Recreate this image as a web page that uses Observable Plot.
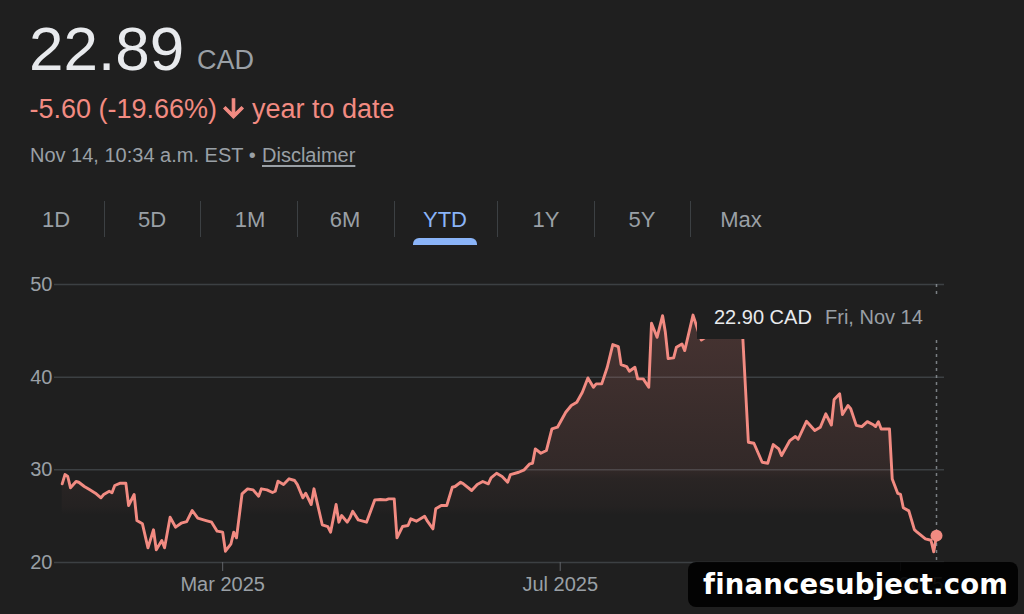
<!DOCTYPE html>
<html><head><meta charset="utf-8">
<script src="https://cdn.jsdelivr.net/npm/d3@7"></script>
<script src="https://cdn.jsdelivr.net/npm/@observablehq/plot@0.6"></script>
<style>
html,body{margin:0;padding:0;background:#1f1f1f;}
body{width:1024px;height:614px;position:relative;overflow:hidden;font-family:"Liberation Sans",Arial,sans-serif;}
.abs{position:absolute;white-space:nowrap;line-height:1;}
.tab{position:absolute;width:100px;text-align:center;font-size:22px;line-height:1;top:209px;color:#9aa0a6;}
.sep{position:absolute;top:201px;width:1px;height:36px;background:#3c4043;}
</style></head><body>

<div class="abs" style="left:29px;top:17.5px;font-size:62px;color:#e8eaed">22.89</div>
<div class="abs" style="left:197px;top:47px;font-size:27px;color:#9aa0a6">CAD</div>

<div class="abs" style="left:29.5px;top:96px;font-size:27px;color:#f28b82">-5.60 (-19.66%)</div>
<svg style="position:absolute;left:219px;top:94px" width="29" height="29" viewBox="0 0 24 24"><path fill="#f28b82" d="M20 12l-1.41-1.41L13 16.17V4h-2v12.17l-5.58-5.59L4 12l8 8 8-8z" stroke="#f28b82" stroke-width="1"/></svg>
<div class="abs" style="left:252px;top:96px;font-size:27px;color:#f28b82">year to date</div>

<div class="abs" style="left:30px;top:145px;font-size:20px;color:#9aa0a6">Nov 14, 10:34 a.m. EST •</div>
<div class="abs" style="left:262px;top:145px;font-size:20px;color:#9aa0a6;text-decoration:underline;text-underline-offset:3px">Disclaimer</div>

<div id="tabs"></div>
<div style="position:absolute;left:413px;top:238px;width:64px;height:7px;background:#8ab4f8;border-radius:6px 6px 0 0"></div>

<div id="chart" style="position:absolute;left:0;top:270px"></div>

<div style="position:absolute;left:697px;top:295px;width:250px;height:44px;background:#1f1f1f"></div>
<div class="abs" style="left:714px;top:306.5px;font-size:20px;color:#e8eaed">22.90 CAD</div>
<div class="abs" style="left:825px;top:306.5px;font-size:20px;color:#9aa0a6">Fri, Nov 14</div>

<div style="position:absolute;left:688px;top:562px;width:330px;height:45px;background:rgba(0,0,0,0.9);border-radius:8px"></div>
<div class="abs" style="left:703px;top:571px;font-size:27.5px;font-weight:bold;color:#fff;font-family:'DejaVu Sans',sans-serif;letter-spacing:0.2px;text-shadow:1px 1px 1px #000">financesubject.com</div>

<script>
// ---- data ----
const tabLabels = ["1D","5D","1M","6M","YTD","1Y","5Y","Max"];
const activeTab = "YTD";

const yTicks = [20, 30, 40, 50];
const xTickDates = ["2025-03-01", "2025-07-01", "2025-11-01"];
const xTickLabels = ["Mar 2025", "Jul 2025", "Nov 2025"];

const dates = [
"2025-01-02","2025-01-03","2025-01-04","2025-01-05","2025-01-07","2025-01-08","2025-01-10","2025-01-12","2025-01-14","2025-01-16",
"2025-01-17","2025-01-19","2025-01-20","2025-01-21","2025-01-23","2025-01-25","2025-01-26","2025-01-28","2025-01-29","2025-01-31",
"2025-02-02","2025-02-04","2025-02-05","2025-02-07","2025-02-08","2025-02-10","2025-02-12","2025-02-14","2025-02-16","2025-02-18",
"2025-02-20","2025-02-23","2025-02-25","2025-02-27","2025-03-01","2025-03-02","2025-03-04","2025-03-05","2025-03-06","2025-03-08",
"2025-03-10","2025-03-12","2025-03-14","2025-03-15","2025-03-17","2025-03-19","2025-03-20","2025-03-21","2025-03-23","2025-03-25",
"2025-03-27","2025-03-28","2025-03-30","2025-03-31","2025-04-02","2025-04-03","2025-04-06","2025-04-08","2025-04-09","2025-04-11",
"2025-04-12","2025-04-13","2025-04-15","2025-04-16","2025-04-17","2025-04-19","2025-04-22","2025-04-25","2025-04-27","2025-04-29",
"2025-04-30","2025-05-02","2025-05-03","2025-05-05","2025-05-07","2025-05-08","2025-05-10","2025-05-13","2025-05-14","2025-05-16",
"2025-05-17","2025-05-19","2025-05-21","2025-05-23","2025-05-24","2025-05-26","2025-05-27","2025-05-30","2025-06-01","2025-06-03",
"2025-06-05","2025-06-06","2025-06-08","2025-06-10","2025-06-12","2025-06-13","2025-06-16","2025-06-18","2025-06-20","2025-06-21",
"2025-06-22","2025-06-24","2025-06-26","2025-06-28","2025-06-30","2025-07-03","2025-07-05","2025-07-07","2025-07-09","2025-07-11",
"2025-07-13","2025-07-14","2025-07-16","2025-07-18","2025-07-20","2025-07-22","2025-07-23","2025-07-25","2025-07-26","2025-07-28",
"2025-07-29","2025-07-31","2025-08-02","2025-08-03","2025-08-05","2025-08-07","2025-08-08","2025-08-09","2025-08-11","2025-08-12",
"2025-08-14","2025-08-15","2025-08-18","2025-08-20","2025-08-21","2025-08-24","2025-08-26","2025-08-28","2025-08-30","2025-09-01",
"2025-09-03","2025-09-05","2025-09-07","2025-09-09","2025-09-12","2025-09-14","2025-09-16","2025-09-18","2025-09-19","2025-09-22",
"2025-09-24","2025-09-25","2025-09-28","2025-10-01","2025-10-03","2025-10-05","2025-10-07","2025-10-08","2025-10-10","2025-10-11",
"2025-10-13","2025-10-14","2025-10-16","2025-10-18","2025-10-20","2025-10-22","2025-10-23","2025-10-24","2025-10-25","2025-10-28",
"2025-10-29","2025-10-31","2025-11-01","2025-11-02","2025-11-04","2025-11-06","2025-11-07","2025-11-10","2025-11-12","2025-11-13",
"2025-11-14"
];

const prices = [
28.49,29.49,29.28,28.06,28.74,28.66,28.20,27.84,27.48,26.98,
27.34,27.69,27.52,28.31,28.56,28.56,26.15,27.34,24.53,24.17,
21.58,23.53,21.37,22.37,21.58,24.89,23.81,24.24,24.42,25.61,
24.78,24.53,24.35,23.38,23.27,21.22,22.02,23.27,22.66,27.41,
27.95,27.84,27.15,27.95,27.84,27.55,27.69,28.77,28.41,29.03,
28.85,28.41,26.98,27.48,26.26,27.95,24.07,23.88,23.27,26.26,
24.35,25.07,24.35,24.82,25.53,24.60,24.35,26.76,26.80,26.76,
26.87,26.87,22.66,23.88,23.99,24.71,24.46,24.99,24.46,23.63,
25.79,26.15,26.15,28.12,28.20,28.66,28.49,27.77,28.41,28.74,
28.49,29.13,29.63,29.28,28.66,29.49,29.74,30.00,30.65,30.71,
32.26,31.79,32.08,34.42,34.60,36.21,36.94,37.29,38.37,39.92,
38.91,39.28,39.28,41.07,43.52,43.30,41.36,41.14,40.64,41.07,
39.82,39.82,38.91,45.82,44.30,46.64,44.84,42.00,42.08,43.23,
43.59,42.87,46.70,44.84,44.00,44.60,45.30,44.50,45.00,44.40,
44.80,44.20,32.98,32.87,30.82,30.71,32.73,32.26,31.54,33.16,
33.60,33.30,35.24,34.24,34.60,36.04,34.84,37.60,38.20,35.97,
36.94,36.60,34.80,34.67,35.20,34.90,34.67,35.20,34.40,34.42,
29.00,27.45,27.34,25.90,25.57,23.55,23.27,22.56,22.40,21.15,
22.90
];

// ---- tabs ----
const tabCenters = [56, 152, 250, 345, 445, 546, 642, 741];
const sepXs = [104, 200, 297, 394, 497, 594, 690];
const tabsEl = document.getElementById("tabs");
tabLabels.forEach((t, i) => {
  const d = document.createElement("div");
  d.className = "tab";
  d.style.left = (tabCenters[i] - 50) + "px";
  d.textContent = t;
  if (t === activeTab) d.style.color = "#8ab4f8";
  tabsEl.appendChild(d);
});
sepXs.forEach(x => {
  const s = document.createElement("div");
  s.className = "sep";
  s.style.left = x + "px";
  tabsEl.appendChild(s);
});

// ---- chart ----
const parse = d3.utcParse("%Y-%m-%d");
const data = dates.map((d, i) => ({date: parse(d), price: prices[i]}));
const tickDates = xTickDates.map(parse);
const labelOf = d => xTickLabels[tickDates.findIndex(t => +t === +d)];
const first = data[0].date, last = data[data.length - 1].date;
const DAY = 864e5;

const chart = Plot.plot({
  width: 1024, height: 344,
  marginLeft: 54, marginRight: 80, marginTop: 14, marginBottom: 52,
  style: {background: "transparent", color: "#9aa0a6", fontFamily: "Liberation Sans, Arial, sans-serif", fontSize: "20px", overflow: "visible"},
  x: {type: "utc", domain: [new Date(+first - 2.78 * DAY), new Date(+last + 2.89 * DAY)], label: null},
  y: {domain: [20, 50], label: null},
  marks: [
    Plot.ruleY(yTicks, {stroke: "#3c4043", strokeWidth: 1.5}),
    Plot.axisY(yTicks, {tickSize: 0, tickPadding: 2, fontSize: 20, fill: "#9aa0a6", label: null}),
    Plot.axisX(tickDates, {tickSize: 9, tickPadding: 5, stroke: "#5f6368", fill: "#9aa0a6", fontSize: 20, tickFormat: labelOf, label: null}),
    Plot.areaY(data, {x: "date", y1: 20, y2: "price", fill: "#f28b82", curve: "linear"}),
    Plot.lineY(data, {x: "date", y: "price", stroke: "#f28b82", strokeWidth: 2.9, strokeLinejoin: "round"}),
    Plot.ruleX([last], {stroke: "#9aa0a6", strokeOpacity: 0.75, strokeDasharray: "3,4", strokeWidth: 1.5}),
    Plot.dot([data[data.length - 1]], {x: "date", y: "price", r: 6, fill: "#f28b82"})
  ]
});

const sel = d3.select(chart);
const defs = sel.insert("defs", ":first-child");
const grad = defs.append("linearGradient").attr("id", "ytdFill")
  .attr("gradientUnits", "userSpaceOnUse").attr("x1", 0).attr("x2", 0).attr("y1", 14).attr("y2", 292);
[[0, 0.2], [0.06, 0.2], [0.67, 0.09], [0.7, 0.05], [0.8, 0.025], [0.83, 0]].forEach(([o, a]) => {
  grad.append("stop").attr("offset", o).attr("stop-color", "#f28b82").attr("stop-opacity", a);
});
sel.selectAll('g[aria-label="area"], g[aria-label="area"] path').attr("fill", "url(#ytdFill)");

document.getElementById("chart").appendChild(chart);
</script>
</body></html>
